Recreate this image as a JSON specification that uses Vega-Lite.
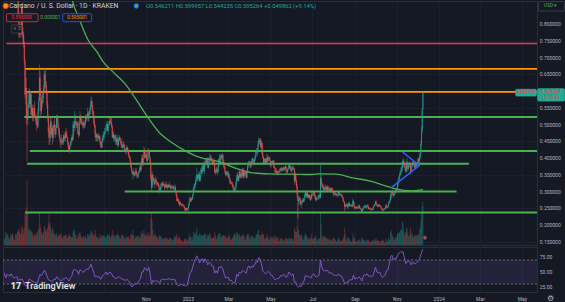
{
"$schema":"https://vega.github.io/schema/vega-lite/v6.json",
"background":"#151924",
"padding":0,
"spacing":0,
"config":{"font":"Roboto","view":{"stroke":"#2a2e39","strokeWidth":1},
 "axis":{"labelColor":"#b2b5be","labelFontSize":5,"ticks":false,"domain":false,"title":null,"gridColor":"#1d2230","gridWidth":0.8,"labelOverlap":false,"labelFlush":false,"labelBound":false}},
"datasets":{
"ohlc":[
{"d":"2022-04-09","o":0.96,"h":0.98,"l":0.95,"c":0.97,"v":6},
{"d":"2022-04-10","o":0.97,"h":0.99,"l":0.94,"c":0.95,"v":6},
{"d":"2022-04-11","o":0.95,"h":0.955,"l":0.885,"c":0.89,"v":12},
{"d":"2022-04-12","o":0.89,"h":0.93,"l":0.88,"c":0.92,"v":10},
{"d":"2022-04-13","o":0.92,"h":0.97,"l":0.91,"c":0.96,"v":10},
{"d":"2022-04-14","o":0.96,"h":0.965,"l":0.91,"c":0.92,"v":9},
{"d":"2022-04-15","o":0.92,"h":0.955,"l":0.915,"c":0.95,"v":7},
{"d":"2022-04-16","o":0.95,"h":0.96,"l":0.935,"c":0.945,"v":5},
{"d":"2022-04-17","o":0.945,"h":0.95,"l":0.915,"c":0.92,"v":6},
{"d":"2022-04-18","o":0.92,"h":0.955,"l":0.89,"c":0.95,"v":10},
{"d":"2022-04-19","o":0.95,"h":0.98,"l":0.94,"c":0.97,"v":9},
{"d":"2022-04-20","o":0.97,"h":0.99,"l":0.95,"c":0.96,"v":9},
{"d":"2022-04-21","o":0.96,"h":1.0,"l":0.92,"c":0.925,"v":11},
{"d":"2022-04-22","o":0.925,"h":0.93,"l":0.9,"c":0.905,"v":8},
{"d":"2022-04-23","o":0.905,"h":0.91,"l":0.89,"c":0.895,"v":5},
{"d":"2022-04-24","o":0.895,"h":0.9,"l":0.88,"c":0.885,"v":5},
{"d":"2022-04-25","o":0.885,"h":0.91,"l":0.875,"c":0.905,"v":10},
{"d":"2022-04-26","o":0.905,"h":0.91,"l":0.88,"c":0.885,"v":10},
{"d":"2022-04-27","o":0.885,"h":0.925,"l":0.88,"c":0.915,"v":10},
{"d":"2022-04-28","o":0.915,"h":0.93,"l":0.89,"c":0.905,"v":12},
{"d":"2022-04-29","o":0.905,"h":0.91,"l":0.82,"c":0.83,"v":14},
{"d":"2022-04-30","o":0.83,"h":0.84,"l":0.76,"c":0.77,"v":15},
{"d":"2022-05-01","o":0.77,"h":0.8,"l":0.76,"c":0.795,"v":12},
{"d":"2022-05-02","o":0.795,"h":0.82,"l":0.78,"c":0.79,"v":10},
{"d":"2022-05-03","o":0.79,"h":0.8,"l":0.76,"c":0.77,"v":10},
{"d":"2022-05-04","o":0.77,"h":0.86,"l":0.77,"c":0.85,"v":16},
{"d":"2022-05-05","o":0.85,"h":0.86,"l":0.76,"c":0.78,"v":18},
{"d":"2022-05-06","o":0.78,"h":0.79,"l":0.74,"c":0.77,"v":14},
{"d":"2022-05-07","o":0.77,"h":0.775,"l":0.73,"c":0.74,"v":10},
{"d":"2022-05-08","o":0.74,"h":0.75,"l":0.68,"c":0.69,"v":16},
{"d":"2022-05-09","o":0.69,"h":0.7,"l":0.58,"c":0.59,"v":30},
{"d":"2022-05-10","o":0.59,"h":0.66,"l":0.56,"c":0.61,"v":28},
{"d":"2022-05-11","o":0.61,"h":0.64,"l":0.5,"c":0.52,"v":35},
{"d":"2022-05-12","o":0.52,"h":0.56,"l":0.39,"c":0.515,"v":60},
{"d":"2022-05-13","o":0.515,"h":0.6,"l":0.5,"c":0.55,"v":30},
{"d":"2022-05-14","o":0.55,"h":0.57,"l":0.52,"c":0.56,"v":14},
{"d":"2022-05-15","o":0.56,"h":0.61,"l":0.55,"c":0.6,"v":15},
{"d":"2022-05-16","o":0.6,"h":0.605,"l":0.55,"c":0.56,"v":14},
{"d":"2022-05-17","o":0.56,"h":0.6,"l":0.55,"c":0.59,"v":12},
{"d":"2022-05-18","o":0.59,"h":0.6,"l":0.53,"c":0.53,"v":14},
{"d":"2022-05-19","o":0.53,"h":0.56,"l":0.52,"c":0.55,"v":12},
{"d":"2022-05-20","o":0.55,"h":0.56,"l":0.51,"c":0.52,"v":11},
{"d":"2022-05-21","o":0.52,"h":0.54,"l":0.51,"c":0.535,"v":8},
{"d":"2022-05-22","o":0.535,"h":0.56,"l":0.53,"c":0.55,"v":9},
{"d":"2022-05-23","o":0.55,"h":0.57,"l":0.52,"c":0.52,"v":11},
{"d":"2022-05-24","o":0.52,"h":0.535,"l":0.51,"c":0.525,"v":9},
{"d":"2022-05-25","o":0.525,"h":0.53,"l":0.5,"c":0.51,"v":9},
{"d":"2022-05-26","o":0.51,"h":0.52,"l":0.48,"c":0.5,"v":12},
{"d":"2022-05-27","o":0.5,"h":0.52,"l":0.49,"c":0.495,"v":11},
{"d":"2022-05-28","o":0.495,"h":0.55,"l":0.49,"c":0.54,"v":13},
{"d":"2022-05-29","o":0.54,"h":0.58,"l":0.53,"c":0.57,"v":15},
{"d":"2022-05-30","o":0.57,"h":0.68,"l":0.57,"c":0.64,"v":30},
{"d":"2022-05-31","o":0.64,"h":0.66,"l":0.59,"c":0.6,"v":20},
{"d":"2022-06-01","o":0.6,"h":0.61,"l":0.52,"c":0.54,"v":16},
{"d":"2022-06-02","o":0.54,"h":0.58,"l":0.53,"c":0.57,"v":12},
{"d":"2022-06-03","o":0.57,"h":0.59,"l":0.55,"c":0.565,"v":10},
{"d":"2022-06-04","o":0.565,"h":0.6,"l":0.56,"c":0.59,"v":10},
{"d":"2022-06-05","o":0.59,"h":0.62,"l":0.58,"c":0.61,"v":12},
{"d":"2022-06-06","o":0.61,"h":0.67,"l":0.6,"c":0.65,"v":18},
{"d":"2022-06-07","o":0.65,"h":0.66,"l":0.6,"c":0.63,"v":16},
{"d":"2022-06-08","o":0.63,"h":0.665,"l":0.61,"c":0.62,"v":14},
{"d":"2022-06-09","o":0.62,"h":0.63,"l":0.59,"c":0.6,"v":12},
{"d":"2022-06-10","o":0.6,"h":0.605,"l":0.55,"c":0.56,"v":14},
{"d":"2022-06-11","o":0.56,"h":0.57,"l":0.51,"c":0.52,"v":16},
{"d":"2022-06-12","o":0.52,"h":0.53,"l":0.47,"c":0.48,"v":20},
{"d":"2022-06-13","o":0.48,"h":0.49,"l":0.44,"c":0.46,"v":28},
{"d":"2022-06-14","o":0.46,"h":0.5,"l":0.44,"c":0.49,"v":20},
{"d":"2022-06-15","o":0.49,"h":0.52,"l":0.45,"c":0.51,"v":18},
{"d":"2022-06-16","o":0.51,"h":0.52,"l":0.46,"c":0.47,"v":14},
{"d":"2022-06-17","o":0.47,"h":0.5,"l":0.465,"c":0.49,"v":11},
{"d":"2022-06-18","o":0.49,"h":0.495,"l":0.44,"c":0.46,"v":16},
{"d":"2022-06-19","o":0.46,"h":0.5,"l":0.45,"c":0.49,"v":14},
{"d":"2022-06-20","o":0.49,"h":0.51,"l":0.47,"c":0.5,"v":11},
{"d":"2022-06-21","o":0.5,"h":0.52,"l":0.48,"c":0.49,"v":10},
{"d":"2022-06-22","o":0.49,"h":0.5,"l":0.46,"c":0.47,"v":9},
{"d":"2022-06-23","o":0.47,"h":0.5,"l":0.47,"c":0.49,"v":9},
{"d":"2022-06-24","o":0.49,"h":0.53,"l":0.49,"c":0.52,"v":11},
{"d":"2022-06-25","o":0.52,"h":0.53,"l":0.5,"c":0.51,"v":8},
{"d":"2022-06-26","o":0.51,"h":0.52,"l":0.49,"c":0.49,"v":7},
{"d":"2022-06-27","o":0.49,"h":0.5,"l":0.47,"c":0.48,"v":9},
{"d":"2022-06-28","o":0.48,"h":0.49,"l":0.46,"c":0.46,"v":9},
{"d":"2022-06-29","o":0.46,"h":0.47,"l":0.44,"c":0.45,"v":10},
{"d":"2022-06-30","o":0.45,"h":0.46,"l":0.43,"c":0.448,"v":11},
{"d":"2022-07-01","o":0.448,"h":0.47,"l":0.44,"c":0.452,"v":9},
{"d":"2022-07-02","o":0.452,"h":0.46,"l":0.44,"c":0.445,"v":6},
{"d":"2022-07-03","o":0.445,"h":0.46,"l":0.44,"c":0.45,"v":6},
{"d":"2022-07-04","o":0.45,"h":0.47,"l":0.44,"c":0.468,"v":8},
{"d":"2022-07-05","o":0.468,"h":0.48,"l":0.45,"c":0.458,"v":9},
{"d":"2022-07-06","o":0.458,"h":0.47,"l":0.45,"c":0.462,"v":8},
{"d":"2022-07-07","o":0.462,"h":0.48,"l":0.45,"c":0.475,"v":9},
{"d":"2022-07-08","o":0.475,"h":0.49,"l":0.46,"c":0.468,"v":10},
{"d":"2022-07-09","o":0.468,"h":0.48,"l":0.46,"c":0.46,"v":6},
{"d":"2022-07-10","o":0.46,"h":0.462,"l":0.44,"c":0.448,"v":7},
{"d":"2022-07-11","o":0.448,"h":0.45,"l":0.42,"c":0.43,"v":9},
{"d":"2022-07-12","o":0.43,"h":0.44,"l":0.42,"c":0.425,"v":8},
{"d":"2022-07-13","o":0.425,"h":0.44,"l":0.415,"c":0.438,"v":10},
{"d":"2022-07-14","o":0.438,"h":0.45,"l":0.43,"c":0.448,"v":8},
{"d":"2022-07-15","o":0.448,"h":0.46,"l":0.44,"c":0.452,"v":8},
{"d":"2022-07-16","o":0.452,"h":0.47,"l":0.44,"c":0.462,"v":7},
{"d":"2022-07-17","o":0.462,"h":0.47,"l":0.45,"c":0.455,"v":7},
{"d":"2022-07-18","o":0.455,"h":0.51,"l":0.455,"c":0.5,"v":14},
{"d":"2022-07-19","o":0.5,"h":0.51,"l":0.47,"c":0.49,"v":12},
{"d":"2022-07-20","o":0.49,"h":0.54,"l":0.49,"c":0.51,"v":14},
{"d":"2022-07-21","o":0.51,"h":0.52,"l":0.48,"c":0.508,"v":10},
{"d":"2022-07-22","o":0.508,"h":0.53,"l":0.5,"c":0.502,"v":9},
{"d":"2022-07-23","o":0.502,"h":0.51,"l":0.49,"c":0.498,"v":6},
{"d":"2022-07-24","o":0.498,"h":0.51,"l":0.49,"c":0.505,"v":6},
{"d":"2022-07-25","o":0.505,"h":0.51,"l":0.47,"c":0.472,"v":9},
{"d":"2022-07-26","o":0.472,"h":0.48,"l":0.46,"c":0.468,"v":8},
{"d":"2022-07-27","o":0.468,"h":0.51,"l":0.465,"c":0.505,"v":11},
{"d":"2022-07-28","o":0.505,"h":0.54,"l":0.5,"c":0.52,"v":12},
{"d":"2022-07-29","o":0.52,"h":0.53,"l":0.5,"c":0.512,"v":9},
{"d":"2022-07-30","o":0.512,"h":0.525,"l":0.5,"c":0.508,"v":7},
{"d":"2022-07-31","o":0.508,"h":0.52,"l":0.5,"c":0.502,"v":6},
{"d":"2022-08-01","o":0.502,"h":0.51,"l":0.49,"c":0.498,"v":7},
{"d":"2022-08-02","o":0.498,"h":0.51,"l":0.485,"c":0.505,"v":8},
{"d":"2022-08-03","o":0.505,"h":0.515,"l":0.49,"c":0.495,"v":7},
{"d":"2022-08-04","o":0.495,"h":0.51,"l":0.49,"c":0.502,"v":7},
{"d":"2022-08-05","o":0.502,"h":0.53,"l":0.5,"c":0.522,"v":9},
{"d":"2022-08-06","o":0.522,"h":0.53,"l":0.51,"c":0.518,"v":6},
{"d":"2022-08-07","o":0.518,"h":0.53,"l":0.51,"c":0.525,"v":6},
{"d":"2022-08-08","o":0.525,"h":0.55,"l":0.52,"c":0.535,"v":10},
{"d":"2022-08-09","o":0.535,"h":0.54,"l":0.51,"c":0.518,"v":8},
{"d":"2022-08-10","o":0.518,"h":0.54,"l":0.51,"c":0.532,"v":10},
{"d":"2022-08-11","o":0.532,"h":0.55,"l":0.53,"c":0.54,"v":10},
{"d":"2022-08-12","o":0.54,"h":0.56,"l":0.53,"c":0.552,"v":9},
{"d":"2022-08-13","o":0.552,"h":0.585,"l":0.55,"c":0.57,"v":14},
{"d":"2022-08-14","o":0.57,"h":0.58,"l":0.55,"c":0.56,"v":12},
{"d":"2022-08-15","o":0.56,"h":0.57,"l":0.53,"c":0.54,"v":11},
{"d":"2022-08-16","o":0.54,"h":0.55,"l":0.52,"c":0.53,"v":9},
{"d":"2022-08-17","o":0.53,"h":0.54,"l":0.5,"c":0.51,"v":10},
{"d":"2022-08-18","o":0.51,"h":0.52,"l":0.49,"c":0.5,"v":8},
{"d":"2022-08-19","o":0.5,"h":0.5,"l":0.46,"c":0.47,"v":14},
{"d":"2022-08-20","o":0.47,"h":0.48,"l":0.45,"c":0.462,"v":10},
{"d":"2022-08-21","o":0.462,"h":0.475,"l":0.45,"c":0.47,"v":7},
{"d":"2022-08-22","o":0.47,"h":0.472,"l":0.45,"c":0.462,"v":8},
{"d":"2022-08-23","o":0.462,"h":0.47,"l":0.45,"c":0.465,"v":7},
{"d":"2022-08-24","o":0.465,"h":0.475,"l":0.455,"c":0.46,"v":6},
{"d":"2022-08-25","o":0.46,"h":0.47,"l":0.455,"c":0.465,"v":6},
{"d":"2022-08-26","o":0.465,"h":0.47,"l":0.44,"c":0.448,"v":10},
{"d":"2022-08-27","o":0.448,"h":0.45,"l":0.43,"c":0.44,"v":8},
{"d":"2022-08-28","o":0.44,"h":0.45,"l":0.43,"c":0.432,"v":7},
{"d":"2022-08-29","o":0.432,"h":0.46,"l":0.43,"c":0.452,"v":9},
{"d":"2022-08-30","o":0.452,"h":0.47,"l":0.445,"c":0.46,"v":9},
{"d":"2022-08-31","o":0.46,"h":0.48,"l":0.455,"c":0.468,"v":9},
{"d":"2022-09-01","o":0.468,"h":0.48,"l":0.45,"c":0.472,"v":8},
{"d":"2022-09-02","o":0.472,"h":0.49,"l":0.46,"c":0.478,"v":8},
{"d":"2022-09-03","o":0.478,"h":0.49,"l":0.47,"c":0.482,"v":6},
{"d":"2022-09-04","o":0.482,"h":0.5,"l":0.48,"c":0.498,"v":7},
{"d":"2022-09-05","o":0.498,"h":0.51,"l":0.49,"c":0.502,"v":8},
{"d":"2022-09-06","o":0.502,"h":0.51,"l":0.48,"c":0.482,"v":10},
{"d":"2022-09-07","o":0.482,"h":0.5,"l":0.47,"c":0.495,"v":9},
{"d":"2022-09-08","o":0.495,"h":0.51,"l":0.49,"c":0.502,"v":8},
{"d":"2022-09-09","o":0.502,"h":0.52,"l":0.5,"c":0.512,"v":10},
{"d":"2022-09-10","o":0.512,"h":0.52,"l":0.5,"c":0.508,"v":7},
{"d":"2022-09-11","o":0.508,"h":0.52,"l":0.5,"c":0.505,"v":7},
{"d":"2022-09-12","o":0.505,"h":0.52,"l":0.49,"c":0.495,"v":9},
{"d":"2022-09-13","o":0.495,"h":0.5,"l":0.46,"c":0.462,"v":14},
{"d":"2022-09-14","o":0.462,"h":0.48,"l":0.46,"c":0.472,"v":9},
{"d":"2022-09-15","o":0.472,"h":0.48,"l":0.45,"c":0.458,"v":10},
{"d":"2022-09-16","o":0.458,"h":0.47,"l":0.45,"c":0.462,"v":8},
{"d":"2022-09-17","o":0.462,"h":0.47,"l":0.46,"c":0.468,"v":6},
{"d":"2022-09-18","o":0.468,"h":0.47,"l":0.44,"c":0.448,"v":9},
{"d":"2022-09-19","o":0.448,"h":0.46,"l":0.44,"c":0.458,"v":9},
{"d":"2022-09-20","o":0.458,"h":0.47,"l":0.44,"c":0.45,"v":9},
{"d":"2022-09-21","o":0.45,"h":0.46,"l":0.43,"c":0.438,"v":11},
{"d":"2022-09-22","o":0.438,"h":0.46,"l":0.435,"c":0.458,"v":9},
{"d":"2022-09-23","o":0.458,"h":0.47,"l":0.45,"c":0.462,"v":8},
{"d":"2022-09-24","o":0.462,"h":0.465,"l":0.45,"c":0.452,"v":6},
{"d":"2022-09-25","o":0.452,"h":0.46,"l":0.44,"c":0.448,"v":6},
{"d":"2022-09-26","o":0.448,"h":0.45,"l":0.43,"c":0.442,"v":8},
{"d":"2022-09-27","o":0.442,"h":0.46,"l":0.43,"c":0.432,"v":10},
{"d":"2022-09-28","o":0.432,"h":0.44,"l":0.42,"c":0.438,"v":9},
{"d":"2022-09-29","o":0.438,"h":0.45,"l":0.43,"c":0.442,"v":8},
{"d":"2022-09-30","o":0.442,"h":0.45,"l":0.43,"c":0.432,"v":8},
{"d":"2022-10-01","o":0.432,"h":0.44,"l":0.42,"c":0.428,"v":5},
{"d":"2022-10-02","o":0.428,"h":0.43,"l":0.415,"c":0.42,"v":6},
{"d":"2022-10-03","o":0.42,"h":0.43,"l":0.41,"c":0.422,"v":7},
{"d":"2022-10-04","o":0.422,"h":0.44,"l":0.42,"c":0.432,"v":8},
{"d":"2022-10-05","o":0.432,"h":0.435,"l":0.42,"c":0.425,"v":7},
{"d":"2022-10-06","o":0.425,"h":0.43,"l":0.41,"c":0.418,"v":7},
{"d":"2022-10-07","o":0.418,"h":0.42,"l":0.4,"c":0.405,"v":8},
{"d":"2022-10-08","o":0.405,"h":0.41,"l":0.4,"c":0.402,"v":5},
{"d":"2022-10-09","o":0.402,"h":0.405,"l":0.39,"c":0.392,"v":6},
{"d":"2022-10-10","o":0.392,"h":0.395,"l":0.37,"c":0.372,"v":10},
{"d":"2022-10-11","o":0.372,"h":0.38,"l":0.36,"c":0.362,"v":10},
{"d":"2022-10-12","o":0.362,"h":0.365,"l":0.35,"c":0.352,"v":9},
{"d":"2022-10-13","o":0.352,"h":0.36,"l":0.335,"c":0.358,"v":14},
{"d":"2022-10-14","o":0.358,"h":0.37,"l":0.35,"c":0.352,"v":9},
{"d":"2022-10-15","o":0.352,"h":0.36,"l":0.345,"c":0.348,"v":6},
{"d":"2022-10-16","o":0.348,"h":0.36,"l":0.345,"c":0.356,"v":6},
{"d":"2022-10-17","o":0.356,"h":0.37,"l":0.35,"c":0.362,"v":8},
{"d":"2022-10-18","o":0.362,"h":0.37,"l":0.35,"c":0.352,"v":8},
{"d":"2022-10-19","o":0.352,"h":0.355,"l":0.34,"c":0.345,"v":8},
{"d":"2022-10-20","o":0.345,"h":0.355,"l":0.34,"c":0.348,"v":8},
{"d":"2022-10-21","o":0.348,"h":0.36,"l":0.34,"c":0.358,"v":9},
{"d":"2022-10-22","o":0.358,"h":0.365,"l":0.355,"c":0.362,"v":6},
{"d":"2022-10-23","o":0.362,"h":0.375,"l":0.355,"c":0.372,"v":7},
{"d":"2022-10-24","o":0.372,"h":0.38,"l":0.36,"c":0.365,"v":8},
{"d":"2022-10-25","o":0.365,"h":0.39,"l":0.36,"c":0.385,"v":11},
{"d":"2022-10-26","o":0.385,"h":0.41,"l":0.38,"c":0.4,"v":13},
{"d":"2022-10-27","o":0.4,"h":0.41,"l":0.38,"c":0.382,"v":10},
{"d":"2022-10-28","o":0.382,"h":0.4,"l":0.375,"c":0.398,"v":10},
{"d":"2022-10-29","o":0.398,"h":0.435,"l":0.395,"c":0.42,"v":14},
{"d":"2022-10-30","o":0.42,"h":0.43,"l":0.4,"c":0.408,"v":10},
{"d":"2022-10-31","o":0.408,"h":0.42,"l":0.4,"c":0.402,"v":9},
{"d":"2022-11-01","o":0.402,"h":0.415,"l":0.4,"c":0.41,"v":8},
{"d":"2022-11-02","o":0.41,"h":0.42,"l":0.39,"c":0.392,"v":10},
{"d":"2022-11-03","o":0.392,"h":0.4,"l":0.385,"c":0.398,"v":8},
{"d":"2022-11-04","o":0.398,"h":0.43,"l":0.395,"c":0.422,"v":12},
{"d":"2022-11-05","o":0.422,"h":0.427,"l":0.41,"c":0.418,"v":9},
{"d":"2022-11-06","o":0.418,"h":0.42,"l":0.4,"c":0.402,"v":8},
{"d":"2022-11-07","o":0.402,"h":0.405,"l":0.38,"c":0.382,"v":10},
{"d":"2022-11-08","o":0.382,"h":0.39,"l":0.33,"c":0.342,"v":25},
{"d":"2022-11-09","o":0.342,"h":0.35,"l":0.3,"c":0.312,"v":30},
{"d":"2022-11-10","o":0.312,"h":0.36,"l":0.31,"c":0.35,"v":22},
{"d":"2022-11-11","o":0.35,"h":0.352,"l":0.32,"c":0.338,"v":14},
{"d":"2022-11-12","o":0.338,"h":0.342,"l":0.33,"c":0.332,"v":8},
{"d":"2022-11-13","o":0.332,"h":0.34,"l":0.32,"c":0.322,"v":9},
{"d":"2022-11-14","o":0.322,"h":0.34,"l":0.31,"c":0.332,"v":11},
{"d":"2022-11-15","o":0.332,"h":0.345,"l":0.33,"c":0.335,"v":9},
{"d":"2022-11-16","o":0.335,"h":0.34,"l":0.32,"c":0.325,"v":8},
{"d":"2022-11-17","o":0.325,"h":0.33,"l":0.315,"c":0.322,"v":7},
{"d":"2022-11-18","o":0.322,"h":0.33,"l":0.318,"c":0.325,"v":6},
{"d":"2022-11-19","o":0.325,"h":0.328,"l":0.315,"c":0.318,"v":5},
{"d":"2022-11-20","o":0.318,"h":0.322,"l":0.3,"c":0.305,"v":8},
{"d":"2022-11-21","o":0.305,"h":0.31,"l":0.295,"c":0.302,"v":9},
{"d":"2022-11-22","o":0.302,"h":0.315,"l":0.298,"c":0.312,"v":8},
{"d":"2022-11-23","o":0.312,"h":0.325,"l":0.305,"c":0.322,"v":8},
{"d":"2022-11-24","o":0.322,"h":0.33,"l":0.318,"c":0.325,"v":6},
{"d":"2022-11-25","o":0.325,"h":0.328,"l":0.312,"c":0.318,"v":6},
{"d":"2022-11-26","o":0.318,"h":0.33,"l":0.315,"c":0.322,"v":6},
{"d":"2022-11-27","o":0.322,"h":0.33,"l":0.318,"c":0.32,"v":5},
{"d":"2022-11-28","o":0.32,"h":0.322,"l":0.305,"c":0.312,"v":7},
{"d":"2022-11-29","o":0.312,"h":0.322,"l":0.31,"c":0.318,"v":6},
{"d":"2022-11-30","o":0.318,"h":0.33,"l":0.312,"c":0.322,"v":7},
{"d":"2022-12-01","o":0.322,"h":0.328,"l":0.31,"c":0.312,"v":6},
{"d":"2022-12-02","o":0.312,"h":0.32,"l":0.305,"c":0.318,"v":6},
{"d":"2022-12-03","o":0.318,"h":0.322,"l":0.31,"c":0.312,"v":5},
{"d":"2022-12-04","o":0.312,"h":0.322,"l":0.31,"c":0.32,"v":5},
{"d":"2022-12-05","o":0.32,"h":0.33,"l":0.312,"c":0.315,"v":7},
{"d":"2022-12-06","o":0.315,"h":0.32,"l":0.31,"c":0.318,"v":6},
{"d":"2022-12-07","o":0.318,"h":0.32,"l":0.305,"c":0.31,"v":6},
{"d":"2022-12-08","o":0.31,"h":0.318,"l":0.305,"c":0.314,"v":6},
{"d":"2022-12-09","o":0.314,"h":0.32,"l":0.31,"c":0.312,"v":5},
{"d":"2022-12-10","o":0.312,"h":0.318,"l":0.308,"c":0.315,"v":4},
{"d":"2022-12-11","o":0.315,"h":0.318,"l":0.305,"c":0.308,"v":5},
{"d":"2022-12-12","o":0.308,"h":0.312,"l":0.298,"c":0.31,"v":7},
{"d":"2022-12-13","o":0.31,"h":0.322,"l":0.305,"c":0.312,"v":8},
{"d":"2022-12-14","o":0.312,"h":0.318,"l":0.3,"c":0.302,"v":7},
{"d":"2022-12-15","o":0.302,"h":0.305,"l":0.285,"c":0.29,"v":9},
{"d":"2022-12-16","o":0.29,"h":0.292,"l":0.27,"c":0.272,"v":10},
{"d":"2022-12-17","o":0.272,"h":0.28,"l":0.27,"c":0.278,"v":6},
{"d":"2022-12-18","o":0.278,"h":0.28,"l":0.268,"c":0.272,"v":6},
{"d":"2022-12-19","o":0.272,"h":0.274,"l":0.26,"c":0.262,"v":7},
{"d":"2022-12-20","o":0.262,"h":0.272,"l":0.255,"c":0.268,"v":8},
{"d":"2022-12-21","o":0.268,"h":0.27,"l":0.26,"c":0.262,"v":5},
{"d":"2022-12-22","o":0.262,"h":0.265,"l":0.255,"c":0.26,"v":5},
{"d":"2022-12-23","o":0.26,"h":0.264,"l":0.255,"c":0.262,"v":4},
{"d":"2022-12-24","o":0.262,"h":0.265,"l":0.258,"c":0.26,"v":3},
{"d":"2022-12-25","o":0.26,"h":0.262,"l":0.255,"c":0.258,"v":3},
{"d":"2022-12-26","o":0.258,"h":0.262,"l":0.252,"c":0.255,"v":4},
{"d":"2022-12-27","o":0.255,"h":0.258,"l":0.248,"c":0.25,"v":5},
{"d":"2022-12-28","o":0.25,"h":0.252,"l":0.24,"c":0.244,"v":6},
{"d":"2022-12-29","o":0.244,"h":0.252,"l":0.242,"c":0.25,"v":6},
{"d":"2022-12-30","o":0.25,"h":0.252,"l":0.242,"c":0.246,"v":5},
{"d":"2022-12-31","o":0.246,"h":0.25,"l":0.243,"c":0.245,"v":4},
{"d":"2023-01-01","o":0.245,"h":0.252,"l":0.243,"c":0.25,"v":4},
{"d":"2023-01-02","o":0.25,"h":0.262,"l":0.247,"c":0.26,"v":6},
{"d":"2023-01-03","o":0.26,"h":0.272,"l":0.258,"c":0.27,"v":8},
{"d":"2023-01-04","o":0.27,"h":0.285,"l":0.268,"c":0.28,"v":10},
{"d":"2023-01-05","o":0.28,"h":0.282,"l":0.27,"c":0.272,"v":7},
{"d":"2023-01-06","o":0.272,"h":0.282,"l":0.268,"c":0.28,"v":7},
{"d":"2023-01-07","o":0.28,"h":0.284,"l":0.274,"c":0.278,"v":4},
{"d":"2023-01-08","o":0.278,"h":0.292,"l":0.275,"c":0.29,"v":7},
{"d":"2023-01-09","o":0.29,"h":0.315,"l":0.288,"c":0.31,"v":12},
{"d":"2023-01-10","o":0.31,"h":0.322,"l":0.3,"c":0.312,"v":10},
{"d":"2023-01-11","o":0.312,"h":0.325,"l":0.305,"c":0.322,"v":9},
{"d":"2023-01-12","o":0.322,"h":0.335,"l":0.312,"c":0.33,"v":11},
{"d":"2023-01-13","o":0.33,"h":0.345,"l":0.32,"c":0.342,"v":12},
{"d":"2023-01-14","o":0.342,"h":0.37,"l":0.335,"c":0.35,"v":16},
{"d":"2023-01-15","o":0.35,"h":0.352,"l":0.33,"c":0.338,"v":9},
{"d":"2023-01-16","o":0.338,"h":0.352,"l":0.33,"c":0.348,"v":9},
{"d":"2023-01-17","o":0.348,"h":0.36,"l":0.34,"c":0.352,"v":8},
{"d":"2023-01-18","o":0.352,"h":0.36,"l":0.33,"c":0.332,"v":11},
{"d":"2023-01-19","o":0.332,"h":0.35,"l":0.33,"c":0.348,"v":8},
{"d":"2023-01-20","o":0.348,"h":0.37,"l":0.345,"c":0.365,"v":10},
{"d":"2023-01-21","o":0.365,"h":0.375,"l":0.352,"c":0.358,"v":9},
{"d":"2023-01-22","o":0.358,"h":0.38,"l":0.352,"c":0.372,"v":9},
{"d":"2023-01-23","o":0.372,"h":0.385,"l":0.362,"c":0.38,"v":9},
{"d":"2023-01-24","o":0.38,"h":0.39,"l":0.358,"c":0.362,"v":9},
{"d":"2023-01-25","o":0.362,"h":0.38,"l":0.352,"c":0.378,"v":10},
{"d":"2023-01-26","o":0.378,"h":0.4,"l":0.372,"c":0.39,"v":11},
{"d":"2023-01-27","o":0.39,"h":0.4,"l":0.378,"c":0.392,"v":9},
{"d":"2023-01-28","o":0.392,"h":0.398,"l":0.38,"c":0.382,"v":6},
{"d":"2023-01-29","o":0.382,"h":0.402,"l":0.38,"c":0.4,"v":8},
{"d":"2023-01-30","o":0.4,"h":0.402,"l":0.37,"c":0.372,"v":10},
{"d":"2023-01-31","o":0.372,"h":0.39,"l":0.368,"c":0.388,"v":8},
{"d":"2023-02-01","o":0.388,"h":0.405,"l":0.38,"c":0.4,"v":10},
{"d":"2023-02-02","o":0.4,"h":0.415,"l":0.39,"c":0.398,"v":11},
{"d":"2023-02-03","o":0.398,"h":0.41,"l":0.39,"c":0.402,"v":8},
{"d":"2023-02-04","o":0.402,"h":0.408,"l":0.39,"c":0.392,"v":6},
{"d":"2023-02-05","o":0.392,"h":0.4,"l":0.38,"c":0.388,"v":6},
{"d":"2023-02-06","o":0.388,"h":0.395,"l":0.378,"c":0.382,"v":7},
{"d":"2023-02-07","o":0.382,"h":0.395,"l":0.378,"c":0.392,"v":7},
{"d":"2023-02-08","o":0.392,"h":0.4,"l":0.38,"c":0.385,"v":7},
{"d":"2023-02-09","o":0.385,"h":0.39,"l":0.355,"c":0.358,"v":12},
{"d":"2023-02-10","o":0.358,"h":0.365,"l":0.35,"c":0.355,"v":9},
{"d":"2023-02-11","o":0.355,"h":0.37,"l":0.354,"c":0.368,"v":6},
{"d":"2023-02-12","o":0.368,"h":0.375,"l":0.36,"c":0.365,"v":6},
{"d":"2023-02-13","o":0.365,"h":0.368,"l":0.35,"c":0.358,"v":8},
{"d":"2023-02-14","o":0.358,"h":0.38,"l":0.355,"c":0.378,"v":9},
{"d":"2023-02-15","o":0.378,"h":0.4,"l":0.372,"c":0.398,"v":11},
{"d":"2023-02-16","o":0.398,"h":0.412,"l":0.385,"c":0.388,"v":11},
{"d":"2023-02-17","o":0.388,"h":0.41,"l":0.38,"c":0.402,"v":10},
{"d":"2023-02-18","o":0.402,"h":0.412,"l":0.398,"c":0.408,"v":7},
{"d":"2023-02-19","o":0.408,"h":0.41,"l":0.395,"c":0.4,"v":7},
{"d":"2023-02-20","o":0.4,"h":0.415,"l":0.39,"c":0.41,"v":9},
{"d":"2023-02-21","o":0.41,"h":0.412,"l":0.385,"c":0.39,"v":9},
{"d":"2023-02-22","o":0.39,"h":0.395,"l":0.37,"c":0.378,"v":9},
{"d":"2023-02-23","o":0.378,"h":0.39,"l":0.368,"c":0.372,"v":8},
{"d":"2023-02-24","o":0.372,"h":0.375,"l":0.352,"c":0.358,"v":9},
{"d":"2023-02-25","o":0.358,"h":0.36,"l":0.345,"c":0.35,"v":7},
{"d":"2023-02-26","o":0.35,"h":0.362,"l":0.348,"c":0.36,"v":6},
{"d":"2023-02-27","o":0.36,"h":0.362,"l":0.348,"c":0.352,"v":7},
{"d":"2023-02-28","o":0.352,"h":0.36,"l":0.342,"c":0.348,"v":7},
{"d":"2023-03-01","o":0.348,"h":0.36,"l":0.34,"c":0.352,"v":8},
{"d":"2023-03-02","o":0.352,"h":0.355,"l":0.338,"c":0.342,"v":7},
{"d":"2023-03-03","o":0.342,"h":0.343,"l":0.322,"c":0.33,"v":10},
{"d":"2023-03-04","o":0.33,"h":0.335,"l":0.322,"c":0.328,"v":5},
{"d":"2023-03-05","o":0.328,"h":0.332,"l":0.322,"c":0.325,"v":5},
{"d":"2023-03-06","o":0.325,"h":0.33,"l":0.318,"c":0.322,"v":6},
{"d":"2023-03-07","o":0.322,"h":0.328,"l":0.312,"c":0.318,"v":7},
{"d":"2023-03-08","o":0.318,"h":0.32,"l":0.305,"c":0.31,"v":8},
{"d":"2023-03-09","o":0.31,"h":0.318,"l":0.3,"c":0.302,"v":10},
{"d":"2023-03-10","o":0.302,"h":0.31,"l":0.298,"c":0.308,"v":11},
{"d":"2023-03-11","o":0.308,"h":0.315,"l":0.3,"c":0.31,"v":9},
{"d":"2023-03-12","o":0.31,"h":0.33,"l":0.305,"c":0.328,"v":9},
{"d":"2023-03-13","o":0.328,"h":0.35,"l":0.32,"c":0.342,"v":12},
{"d":"2023-03-14","o":0.342,"h":0.36,"l":0.332,"c":0.35,"v":11},
{"d":"2023-03-15","o":0.35,"h":0.358,"l":0.33,"c":0.332,"v":10},
{"d":"2023-03-16","o":0.332,"h":0.348,"l":0.33,"c":0.345,"v":8},
{"d":"2023-03-17","o":0.345,"h":0.365,"l":0.34,"c":0.36,"v":10},
{"d":"2023-03-18","o":0.36,"h":0.362,"l":0.34,"c":0.342,"v":8},
{"d":"2023-03-19","o":0.342,"h":0.358,"l":0.34,"c":0.352,"v":7},
{"d":"2023-03-20","o":0.352,"h":0.36,"l":0.34,"c":0.348,"v":8},
{"d":"2023-03-21","o":0.348,"h":0.37,"l":0.345,"c":0.365,"v":9},
{"d":"2023-03-22","o":0.365,"h":0.372,"l":0.338,"c":0.345,"v":10},
{"d":"2023-03-23","o":0.345,"h":0.37,"l":0.342,"c":0.362,"v":9},
{"d":"2023-03-24","o":0.362,"h":0.365,"l":0.34,"c":0.348,"v":8},
{"d":"2023-03-25","o":0.348,"h":0.355,"l":0.342,"c":0.352,"v":5},
{"d":"2023-03-26","o":0.352,"h":0.36,"l":0.348,"c":0.358,"v":5},
{"d":"2023-03-27","o":0.358,"h":0.36,"l":0.338,"c":0.342,"v":8},
{"d":"2023-03-28","o":0.342,"h":0.368,"l":0.34,"c":0.362,"v":9},
{"d":"2023-03-29","o":0.362,"h":0.382,"l":0.36,"c":0.378,"v":10},
{"d":"2023-03-30","o":0.378,"h":0.392,"l":0.37,"c":0.382,"v":10},
{"d":"2023-03-31","o":0.382,"h":0.392,"l":0.375,"c":0.388,"v":8},
{"d":"2023-04-01","o":0.388,"h":0.392,"l":0.378,"c":0.382,"v":6},
{"d":"2023-04-02","o":0.382,"h":0.39,"l":0.37,"c":0.375,"v":6},
{"d":"2023-04-03","o":0.375,"h":0.39,"l":0.37,"c":0.385,"v":8},
{"d":"2023-04-04","o":0.385,"h":0.4,"l":0.38,"c":0.392,"v":9},
{"d":"2023-04-05","o":0.392,"h":0.402,"l":0.388,"c":0.398,"v":8},
{"d":"2023-04-06","o":0.398,"h":0.4,"l":0.38,"c":0.385,"v":7},
{"d":"2023-04-07","o":0.385,"h":0.39,"l":0.378,"c":0.388,"v":6},
{"d":"2023-04-08","o":0.388,"h":0.4,"l":0.385,"c":0.398,"v":6},
{"d":"2023-04-09","o":0.398,"h":0.41,"l":0.392,"c":0.408,"v":7},
{"d":"2023-04-10","o":0.408,"h":0.42,"l":0.4,"c":0.418,"v":9},
{"d":"2023-04-11","o":0.418,"h":0.43,"l":0.41,"c":0.422,"v":10},
{"d":"2023-04-12","o":0.422,"h":0.43,"l":0.405,"c":0.418,"v":10},
{"d":"2023-04-13","o":0.418,"h":0.45,"l":0.415,"c":0.44,"v":13},
{"d":"2023-04-14","o":0.44,"h":0.462,"l":0.435,"c":0.452,"v":14},
{"d":"2023-04-15","o":0.452,"h":0.46,"l":0.44,"c":0.448,"v":9},
{"d":"2023-04-16","o":0.448,"h":0.46,"l":0.44,"c":0.455,"v":8},
{"d":"2023-04-17","o":0.455,"h":0.458,"l":0.43,"c":0.432,"v":10},
{"d":"2023-04-18","o":0.432,"h":0.45,"l":0.428,"c":0.445,"v":9},
{"d":"2023-04-19","o":0.445,"h":0.446,"l":0.41,"c":0.412,"v":12},
{"d":"2023-04-20","o":0.412,"h":0.42,"l":0.398,"c":0.402,"v":10},
{"d":"2023-04-21","o":0.402,"h":0.405,"l":0.38,"c":0.385,"v":10},
{"d":"2023-04-22","o":0.385,"h":0.4,"l":0.382,"c":0.398,"v":7},
{"d":"2023-04-23","o":0.398,"h":0.4,"l":0.385,"c":0.392,"v":5},
{"d":"2023-04-24","o":0.392,"h":0.4,"l":0.38,"c":0.386,"v":6},
{"d":"2023-04-25","o":0.386,"h":0.402,"l":0.38,"c":0.398,"v":7},
{"d":"2023-04-26","o":0.398,"h":0.412,"l":0.38,"c":0.39,"v":10},
{"d":"2023-04-27","o":0.39,"h":0.41,"l":0.388,"c":0.402,"v":8},
{"d":"2023-04-28","o":0.402,"h":0.405,"l":0.39,"c":0.398,"v":6},
{"d":"2023-04-29","o":0.398,"h":0.405,"l":0.392,"c":0.4,"v":5},
{"d":"2023-04-30","o":0.4,"h":0.405,"l":0.39,"c":0.392,"v":5},
{"d":"2023-05-01","o":0.392,"h":0.395,"l":0.372,"c":0.378,"v":8},
{"d":"2023-05-02","o":0.378,"h":0.39,"l":0.372,"c":0.388,"v":7},
{"d":"2023-05-03","o":0.388,"h":0.392,"l":0.378,"c":0.39,"v":7},
{"d":"2023-05-04","o":0.39,"h":0.392,"l":0.38,"c":0.382,"v":6},
{"d":"2023-05-05","o":0.382,"h":0.395,"l":0.38,"c":0.392,"v":7},
{"d":"2023-05-06","o":0.392,"h":0.395,"l":0.37,"c":0.372,"v":8},
{"d":"2023-05-07","o":0.372,"h":0.378,"l":0.368,"c":0.37,"v":5},
{"d":"2023-05-08","o":0.37,"h":0.372,"l":0.352,"c":0.358,"v":9},
{"d":"2023-05-09","o":0.358,"h":0.365,"l":0.355,"c":0.362,"v":6},
{"d":"2023-05-10","o":0.362,"h":0.372,"l":0.352,"c":0.36,"v":7},
{"d":"2023-05-11","o":0.36,"h":0.362,"l":0.35,"c":0.355,"v":7},
{"d":"2023-05-12","o":0.355,"h":0.362,"l":0.348,"c":0.36,"v":7},
{"d":"2023-05-13","o":0.36,"h":0.364,"l":0.356,"c":0.358,"v":4},
{"d":"2023-05-14","o":0.358,"h":0.365,"l":0.355,"c":0.36,"v":4},
{"d":"2023-05-15","o":0.36,"h":0.372,"l":0.358,"c":0.368,"v":6},
{"d":"2023-05-16","o":0.368,"h":0.372,"l":0.36,"c":0.365,"v":6},
{"d":"2023-05-17","o":0.365,"h":0.372,"l":0.36,"c":0.37,"v":6},
{"d":"2023-05-18","o":0.37,"h":0.374,"l":0.36,"c":0.362,"v":6},
{"d":"2023-05-19","o":0.362,"h":0.372,"l":0.36,"c":0.368,"v":5},
{"d":"2023-05-20","o":0.368,"h":0.375,"l":0.365,"c":0.372,"v":5},
{"d":"2023-05-21","o":0.372,"h":0.374,"l":0.362,"c":0.365,"v":4},
{"d":"2023-05-22","o":0.365,"h":0.372,"l":0.362,"c":0.37,"v":4},
{"d":"2023-05-23","o":0.37,"h":0.382,"l":0.368,"c":0.375,"v":6},
{"d":"2023-05-24","o":0.375,"h":0.376,"l":0.355,"c":0.36,"v":7},
{"d":"2023-05-25","o":0.36,"h":0.362,"l":0.352,"c":0.358,"v":6},
{"d":"2023-05-26","o":0.358,"h":0.37,"l":0.356,"c":0.366,"v":5},
{"d":"2023-05-27","o":0.366,"h":0.372,"l":0.362,"c":0.368,"v":4},
{"d":"2023-05-28","o":0.368,"h":0.385,"l":0.366,"c":0.38,"v":7},
{"d":"2023-05-29","o":0.38,"h":0.382,"l":0.368,"c":0.372,"v":6},
{"d":"2023-05-30","o":0.372,"h":0.38,"l":0.368,"c":0.375,"v":5},
{"d":"2023-05-31","o":0.375,"h":0.376,"l":0.36,"c":0.362,"v":6},
{"d":"2023-06-01","o":0.362,"h":0.37,"l":0.356,"c":0.365,"v":6},
{"d":"2023-06-02","o":0.365,"h":0.375,"l":0.362,"c":0.372,"v":6},
{"d":"2023-06-03","o":0.372,"h":0.378,"l":0.366,"c":0.37,"v":5},
{"d":"2023-06-04","o":0.37,"h":0.376,"l":0.365,"c":0.368,"v":4},
{"d":"2023-06-05","o":0.368,"h":0.37,"l":0.325,"c":0.332,"v":16},
{"d":"2023-06-06","o":0.332,"h":0.36,"l":0.32,"c":0.352,"v":14},
{"d":"2023-06-07","o":0.352,"h":0.355,"l":0.328,"c":0.332,"v":12},
{"d":"2023-06-08","o":0.332,"h":0.335,"l":0.31,"c":0.315,"v":12},
{"d":"2023-06-09","o":0.315,"h":0.322,"l":0.28,"c":0.29,"v":18},
{"d":"2023-06-10","o":0.29,"h":0.295,"l":0.22,"c":0.272,"v":38},
{"d":"2023-06-11","o":0.272,"h":0.282,"l":0.26,"c":0.275,"v":14},
{"d":"2023-06-12","o":0.275,"h":0.285,"l":0.262,"c":0.28,"v":10},
{"d":"2023-06-13","o":0.28,"h":0.285,"l":0.268,"c":0.272,"v":9},
{"d":"2023-06-14","o":0.272,"h":0.28,"l":0.258,"c":0.262,"v":9},
{"d":"2023-06-15","o":0.262,"h":0.27,"l":0.25,"c":0.265,"v":10},
{"d":"2023-06-16","o":0.265,"h":0.275,"l":0.26,"c":0.272,"v":8},
{"d":"2023-06-17","o":0.272,"h":0.28,"l":0.268,"c":0.275,"v":6},
{"d":"2023-06-18","o":0.275,"h":0.28,"l":0.268,"c":0.27,"v":5},
{"d":"2023-06-19","o":0.27,"h":0.282,"l":0.268,"c":0.28,"v":6},
{"d":"2023-06-20","o":0.28,"h":0.295,"l":0.275,"c":0.29,"v":9},
{"d":"2023-06-21","o":0.29,"h":0.305,"l":0.285,"c":0.298,"v":11},
{"d":"2023-06-22","o":0.298,"h":0.302,"l":0.28,"c":0.285,"v":9},
{"d":"2023-06-23","o":0.285,"h":0.3,"l":0.282,"c":0.295,"v":8},
{"d":"2023-06-24","o":0.295,"h":0.298,"l":0.28,"c":0.284,"v":7},
{"d":"2023-06-25","o":0.284,"h":0.292,"l":0.28,"c":0.29,"v":5},
{"d":"2023-06-26","o":0.29,"h":0.292,"l":0.278,"c":0.282,"v":6},
{"d":"2023-06-27","o":0.282,"h":0.292,"l":0.28,"c":0.288,"v":6},
{"d":"2023-06-28","o":0.288,"h":0.29,"l":0.272,"c":0.275,"v":7},
{"d":"2023-06-29","o":0.275,"h":0.285,"l":0.272,"c":0.28,"v":6},
{"d":"2023-06-30","o":0.28,"h":0.3,"l":0.278,"c":0.292,"v":10},
{"d":"2023-07-01","o":0.292,"h":0.296,"l":0.285,"c":0.29,"v":6},
{"d":"2023-07-02","o":0.29,"h":0.298,"l":0.286,"c":0.292,"v":5},
{"d":"2023-07-03","o":0.292,"h":0.302,"l":0.288,"c":0.298,"v":7},
{"d":"2023-07-04","o":0.298,"h":0.3,"l":0.288,"c":0.29,"v":6},
{"d":"2023-07-05","o":0.29,"h":0.292,"l":0.278,"c":0.282,"v":7},
{"d":"2023-07-06","o":0.282,"h":0.29,"l":0.27,"c":0.275,"v":9},
{"d":"2023-07-07","o":0.275,"h":0.285,"l":0.272,"c":0.28,"v":6},
{"d":"2023-07-08","o":0.28,"h":0.282,"l":0.274,"c":0.278,"v":4},
{"d":"2023-07-09","o":0.278,"h":0.285,"l":0.275,"c":0.28,"v":4},
{"d":"2023-07-10","o":0.28,"h":0.29,"l":0.276,"c":0.288,"v":6},
{"d":"2023-07-11","o":0.288,"h":0.295,"l":0.282,"c":0.29,"v":6},
{"d":"2023-07-12","o":0.29,"h":0.295,"l":0.278,"c":0.282,"v":6},
{"d":"2023-07-13","o":0.282,"h":0.38,"l":0.28,"c":0.34,"v":30},
{"d":"2023-07-14","o":0.34,"h":0.35,"l":0.31,"c":0.322,"v":20},
{"d":"2023-07-15","o":0.322,"h":0.33,"l":0.315,"c":0.32,"v":9},
{"d":"2023-07-16","o":0.32,"h":0.325,"l":0.31,"c":0.318,"v":6},
{"d":"2023-07-17","o":0.318,"h":0.32,"l":0.302,"c":0.308,"v":8},
{"d":"2023-07-18","o":0.308,"h":0.315,"l":0.3,"c":0.305,"v":8},
{"d":"2023-07-19","o":0.305,"h":0.315,"l":0.302,"c":0.312,"v":7},
{"d":"2023-07-20","o":0.312,"h":0.322,"l":0.302,"c":0.308,"v":8},
{"d":"2023-07-21","o":0.308,"h":0.315,"l":0.305,"c":0.312,"v":6},
{"d":"2023-07-22","o":0.312,"h":0.318,"l":0.302,"c":0.305,"v":6},
{"d":"2023-07-23","o":0.305,"h":0.318,"l":0.302,"c":0.315,"v":5},
{"d":"2023-07-24","o":0.315,"h":0.316,"l":0.298,"c":0.302,"v":7},
{"d":"2023-07-25","o":0.302,"h":0.308,"l":0.298,"c":0.305,"v":5},
{"d":"2023-07-26","o":0.305,"h":0.312,"l":0.3,"c":0.31,"v":5},
{"d":"2023-07-27","o":0.31,"h":0.315,"l":0.3,"c":0.302,"v":5},
{"d":"2023-07-28","o":0.302,"h":0.31,"l":0.298,"c":0.308,"v":5},
{"d":"2023-07-29","o":0.308,"h":0.312,"l":0.304,"c":0.31,"v":4},
{"d":"2023-07-30","o":0.31,"h":0.312,"l":0.298,"c":0.302,"v":4},
{"d":"2023-07-31","o":0.302,"h":0.308,"l":0.292,"c":0.298,"v":6},
{"d":"2023-08-01","o":0.298,"h":0.3,"l":0.285,"c":0.295,"v":7},
{"d":"2023-08-02","o":0.295,"h":0.302,"l":0.29,"c":0.292,"v":6},
{"d":"2023-08-03","o":0.292,"h":0.298,"l":0.288,"c":0.294,"v":5},
{"d":"2023-08-04","o":0.294,"h":0.298,"l":0.288,"c":0.29,"v":5},
{"d":"2023-08-05","o":0.29,"h":0.294,"l":0.286,"c":0.292,"v":3},
{"d":"2023-08-06","o":0.292,"h":0.295,"l":0.288,"c":0.29,"v":3},
{"d":"2023-08-07","o":0.29,"h":0.292,"l":0.282,"c":0.288,"v":5},
{"d":"2023-08-08","o":0.288,"h":0.302,"l":0.286,"c":0.298,"v":7},
{"d":"2023-08-09","o":0.298,"h":0.3,"l":0.29,"c":0.292,"v":6},
{"d":"2023-08-10","o":0.292,"h":0.296,"l":0.288,"c":0.29,"v":4},
{"d":"2023-08-11","o":0.29,"h":0.294,"l":0.286,"c":0.292,"v":4},
{"d":"2023-08-12","o":0.292,"h":0.294,"l":0.288,"c":0.29,"v":3},
{"d":"2023-08-13","o":0.29,"h":0.292,"l":0.282,"c":0.285,"v":4},
{"d":"2023-08-14","o":0.285,"h":0.29,"l":0.28,"c":0.282,"v":5},
{"d":"2023-08-15","o":0.282,"h":0.284,"l":0.27,"c":0.272,"v":7},
{"d":"2023-08-16","o":0.272,"h":0.275,"l":0.265,"c":0.268,"v":7},
{"d":"2023-08-17","o":0.268,"h":0.27,"l":0.24,"c":0.255,"v":16},
{"d":"2023-08-18","o":0.255,"h":0.262,"l":0.248,"c":0.26,"v":10},
{"d":"2023-08-19","o":0.26,"h":0.264,"l":0.255,"c":0.258,"v":5},
{"d":"2023-08-20","o":0.258,"h":0.265,"l":0.256,"c":0.262,"v":4},
{"d":"2023-08-21","o":0.262,"h":0.264,"l":0.25,"c":0.254,"v":6},
{"d":"2023-08-22","o":0.254,"h":0.258,"l":0.245,"c":0.256,"v":7},
{"d":"2023-08-23","o":0.256,"h":0.27,"l":0.254,"c":0.266,"v":7},
{"d":"2023-08-24","o":0.266,"h":0.268,"l":0.256,"c":0.258,"v":5},
{"d":"2023-08-25","o":0.258,"h":0.262,"l":0.254,"c":0.26,"v":4},
{"d":"2023-08-26","o":0.26,"h":0.262,"l":0.256,"c":0.258,"v":3},
{"d":"2023-08-27","o":0.258,"h":0.262,"l":0.255,"c":0.26,"v":3},
{"d":"2023-08-28","o":0.26,"h":0.262,"l":0.252,"c":0.256,"v":4},
{"d":"2023-08-29","o":0.256,"h":0.28,"l":0.255,"c":0.272,"v":10},
{"d":"2023-08-30","o":0.272,"h":0.274,"l":0.262,"c":0.265,"v":6},
{"d":"2023-08-31","o":0.265,"h":0.268,"l":0.25,"c":0.252,"v":7},
{"d":"2023-09-01","o":0.252,"h":0.256,"l":0.245,"c":0.25,"v":6},
{"d":"2023-09-02","o":0.25,"h":0.254,"l":0.248,"c":0.252,"v":3},
{"d":"2023-09-03","o":0.252,"h":0.256,"l":0.25,"c":0.254,"v":3},
{"d":"2023-09-04","o":0.254,"h":0.258,"l":0.248,"c":0.25,"v":4},
{"d":"2023-09-05","o":0.25,"h":0.254,"l":0.246,"c":0.252,"v":4},
{"d":"2023-09-06","o":0.252,"h":0.258,"l":0.248,"c":0.254,"v":4},
{"d":"2023-09-07","o":0.254,"h":0.262,"l":0.25,"c":0.258,"v":5},
{"d":"2023-09-08","o":0.258,"h":0.26,"l":0.248,"c":0.25,"v":5},
{"d":"2023-09-09","o":0.25,"h":0.252,"l":0.248,"c":0.249,"v":2},
{"d":"2023-09-10","o":0.249,"h":0.252,"l":0.242,"c":0.246,"v":4},
{"d":"2023-09-11","o":0.246,"h":0.248,"l":0.236,"c":0.24,"v":7},
{"d":"2023-09-12","o":0.24,"h":0.25,"l":0.238,"c":0.246,"v":6},
{"d":"2023-09-13","o":0.246,"h":0.252,"l":0.244,"c":0.25,"v":5},
{"d":"2023-09-14","o":0.25,"h":0.258,"l":0.248,"c":0.254,"v":5},
{"d":"2023-09-15","o":0.254,"h":0.26,"l":0.25,"c":0.258,"v":4},
{"d":"2023-09-16","o":0.258,"h":0.26,"l":0.254,"c":0.256,"v":3},
{"d":"2023-09-17","o":0.256,"h":0.258,"l":0.25,"c":0.252,"v":3},
{"d":"2023-09-18","o":0.252,"h":0.26,"l":0.248,"c":0.255,"v":5},
{"d":"2023-09-19","o":0.255,"h":0.262,"l":0.252,"c":0.258,"v":5},
{"d":"2023-09-20","o":0.258,"h":0.262,"l":0.252,"c":0.256,"v":4},
{"d":"2023-09-21","o":0.256,"h":0.258,"l":0.246,"c":0.248,"v":5},
{"d":"2023-09-22","o":0.248,"h":0.252,"l":0.246,"c":0.25,"v":3},
{"d":"2023-09-23","o":0.25,"h":0.252,"l":0.248,"c":0.249,"v":2},
{"d":"2023-09-24","o":0.249,"h":0.252,"l":0.244,"c":0.246,"v":3},
{"d":"2023-09-25","o":0.246,"h":0.25,"l":0.242,"c":0.248,"v":4},
{"d":"2023-09-26","o":0.248,"h":0.25,"l":0.244,"c":0.246,"v":3},
{"d":"2023-09-27","o":0.246,"h":0.252,"l":0.244,"c":0.248,"v":4},
{"d":"2023-09-28","o":0.248,"h":0.258,"l":0.246,"c":0.256,"v":5},
{"d":"2023-09-29","o":0.256,"h":0.262,"l":0.254,"c":0.258,"v":4},
{"d":"2023-09-30","o":0.258,"h":0.264,"l":0.256,"c":0.262,"v":3},
{"d":"2023-10-01","o":0.262,"h":0.272,"l":0.26,"c":0.27,"v":6},
{"d":"2023-10-02","o":0.27,"h":0.274,"l":0.26,"c":0.262,"v":6},
{"d":"2023-10-03","o":0.262,"h":0.264,"l":0.256,"c":0.258,"v":4},
{"d":"2023-10-04","o":0.258,"h":0.262,"l":0.254,"c":0.26,"v":4},
{"d":"2023-10-05","o":0.26,"h":0.262,"l":0.252,"c":0.256,"v":4},
{"d":"2023-10-06","o":0.256,"h":0.262,"l":0.254,"c":0.26,"v":4},
{"d":"2023-10-07","o":0.26,"h":0.262,"l":0.256,"c":0.258,"v":2},
{"d":"2023-10-08","o":0.258,"h":0.26,"l":0.254,"c":0.256,"v":2},
{"d":"2023-10-09","o":0.256,"h":0.258,"l":0.248,"c":0.25,"v":4},
{"d":"2023-10-10","o":0.25,"h":0.252,"l":0.246,"c":0.248,"v":4},
{"d":"2023-10-11","o":0.248,"h":0.25,"l":0.24,"c":0.244,"v":5},
{"d":"2023-10-12","o":0.244,"h":0.248,"l":0.24,"c":0.246,"v":4},
{"d":"2023-10-13","o":0.246,"h":0.25,"l":0.244,"c":0.248,"v":4},
{"d":"2023-10-14","o":0.248,"h":0.25,"l":0.246,"c":0.247,"v":2},
{"d":"2023-10-15","o":0.247,"h":0.252,"l":0.246,"c":0.25,"v":2},
{"d":"2023-10-16","o":0.25,"h":0.262,"l":0.248,"c":0.258,"v":6},
{"d":"2023-10-17","o":0.258,"h":0.262,"l":0.252,"c":0.254,"v":4},
{"d":"2023-10-18","o":0.254,"h":0.256,"l":0.25,"c":0.252,"v":3},
{"d":"2023-10-19","o":0.252,"h":0.258,"l":0.25,"c":0.256,"v":4},
{"d":"2023-10-20","o":0.256,"h":0.27,"l":0.255,"c":0.266,"v":7},
{"d":"2023-10-21","o":0.266,"h":0.272,"l":0.262,"c":0.27,"v":5},
{"d":"2023-10-22","o":0.27,"h":0.28,"l":0.266,"c":0.275,"v":5},
{"d":"2023-10-23","o":0.275,"h":0.295,"l":0.272,"c":0.29,"v":12},
{"d":"2023-10-24","o":0.29,"h":0.302,"l":0.28,"c":0.292,"v":14},
{"d":"2023-10-25","o":0.292,"h":0.305,"l":0.288,"c":0.3,"v":10},
{"d":"2023-10-26","o":0.3,"h":0.302,"l":0.288,"c":0.292,"v":8},
{"d":"2023-10-27","o":0.292,"h":0.295,"l":0.282,"c":0.288,"v":7},
{"d":"2023-10-28","o":0.288,"h":0.295,"l":0.286,"c":0.292,"v":4},
{"d":"2023-10-29","o":0.292,"h":0.302,"l":0.29,"c":0.298,"v":5},
{"d":"2023-10-30","o":0.298,"h":0.31,"l":0.295,"c":0.305,"v":7},
{"d":"2023-10-31","o":0.305,"h":0.31,"l":0.295,"c":0.302,"v":7},
{"d":"2023-11-01","o":0.302,"h":0.312,"l":0.298,"c":0.31,"v":8},
{"d":"2023-11-02","o":0.31,"h":0.33,"l":0.305,"c":0.322,"v":11},
{"d":"2023-11-03","o":0.322,"h":0.335,"l":0.315,"c":0.33,"v":11},
{"d":"2023-11-04","o":0.33,"h":0.345,"l":0.326,"c":0.342,"v":10},
{"d":"2023-11-05","o":0.342,"h":0.355,"l":0.335,"c":0.35,"v":12},
{"d":"2023-11-06","o":0.35,"h":0.365,"l":0.345,"c":0.36,"v":14},
{"d":"2023-11-07","o":0.36,"h":0.372,"l":0.35,"c":0.362,"v":14},
{"d":"2023-11-08","o":0.362,"h":0.375,"l":0.355,"c":0.37,"v":13},
{"d":"2023-11-09","o":0.37,"h":0.392,"l":0.36,"c":0.382,"v":22},
{"d":"2023-11-10","o":0.382,"h":0.4,"l":0.372,"c":0.392,"v":20},
{"d":"2023-11-11","o":0.392,"h":0.398,"l":0.372,"c":0.38,"v":14},
{"d":"2023-11-12","o":0.38,"h":0.39,"l":0.372,"c":0.378,"v":9},
{"d":"2023-11-13","o":0.378,"h":0.382,"l":0.362,"c":0.368,"v":11},
{"d":"2023-11-14","o":0.368,"h":0.375,"l":0.355,"c":0.36,"v":12},
{"d":"2023-11-15","o":0.36,"h":0.392,"l":0.358,"c":0.388,"v":16},
{"d":"2023-11-16","o":0.388,"h":0.4,"l":0.368,"c":0.372,"v":15},
{"d":"2023-11-17","o":0.372,"h":0.38,"l":0.36,"c":0.368,"v":11},
{"d":"2023-11-18","o":0.368,"h":0.382,"l":0.364,"c":0.378,"v":8},
{"d":"2023-11-19","o":0.378,"h":0.388,"l":0.372,"c":0.384,"v":8},
{"d":"2023-11-20","o":0.384,"h":0.392,"l":0.372,"c":0.378,"v":10},
{"d":"2023-11-21","o":0.378,"h":0.382,"l":0.35,"c":0.358,"v":16},
{"d":"2023-11-22","o":0.358,"h":0.38,"l":0.356,"c":0.375,"v":13},
{"d":"2023-11-23","o":0.375,"h":0.382,"l":0.37,"c":0.378,"v":8},
{"d":"2023-11-24","o":0.378,"h":0.392,"l":0.375,"c":0.388,"v":10},
{"d":"2023-11-25","o":0.388,"h":0.392,"l":0.38,"c":0.385,"v":7},
{"d":"2023-11-26","o":0.385,"h":0.388,"l":0.375,"c":0.378,"v":7},
{"d":"2023-11-27","o":0.378,"h":0.38,"l":0.365,"c":0.372,"v":9},
{"d":"2023-11-28","o":0.372,"h":0.385,"l":0.368,"c":0.38,"v":9},
{"d":"2023-11-29","o":0.38,"h":0.388,"l":0.372,"c":0.376,"v":8},
{"d":"2023-11-30","o":0.376,"h":0.388,"l":0.374,"c":0.385,"v":9},
{"d":"2023-12-01","o":0.385,"h":0.392,"l":0.378,"c":0.388,"v":9},
{"d":"2023-12-02","o":0.388,"h":0.402,"l":0.385,"c":0.398,"v":10},
{"d":"2023-12-03","o":0.398,"h":0.402,"l":0.386,"c":0.39,"v":9},
{"d":"2023-12-04","o":0.39,"h":0.412,"l":0.388,"c":0.402,"v":14},
{"d":"2023-12-05","o":0.402,"h":0.422,"l":0.395,"c":0.415,"v":16},
{"d":"2023-12-06","o":0.415,"h":0.452,"l":0.41,"c":0.442,"v":22},
{"d":"2023-12-07","o":0.442,"h":0.495,"l":0.435,"c":0.482,"v":30},
{"d":"2023-12-08","o":0.482,"h":0.55,"l":0.475,"c":0.5454,"v":36},
{"d":"2023-12-09","o":0.546211,"h":0.599957,"l":0.544235,"c":0.595264,"v":40}
],
"rsi":[
{"d":"2022-04-09","r":48},{"d":"2022-04-11","r":40},{"d":"2022-04-13","r":46},{"d":"2022-04-15","r":45},{"d":"2022-04-17","r":43},{"d":"2022-04-19","r":47},{"d":"2022-04-21","r":42},{"d":"2022-04-23","r":40},{"d":"2022-04-25","r":41},{"d":"2022-04-27","r":43},{"d":"2022-04-29","r":36},{"d":"2022-05-01","r":38},{"d":"2022-05-03","r":37},{"d":"2022-05-05","r":38},{"d":"2022-05-07","r":34},{"d":"2022-05-09","r":28},{"d":"2022-05-11","r":26},{"d":"2022-05-13","r":32},{"d":"2022-05-15","r":38},{"d":"2022-05-17","r":37},{"d":"2022-05-19","r":35},{"d":"2022-05-21","r":34},{"d":"2022-05-23","r":33},{"d":"2022-05-25","r":32},{"d":"2022-05-27","r":31},{"d":"2022-05-29","r":40},{"d":"2022-05-31","r":46},{"d":"2022-06-02","r":44},{"d":"2022-06-04","r":48},{"d":"2022-06-06","r":53},{"d":"2022-06-08","r":50},{"d":"2022-06-10","r":44},{"d":"2022-06-12","r":37},{"d":"2022-06-14","r":36},{"d":"2022-06-16","r":35},{"d":"2022-06-18","r":34},{"d":"2022-06-20","r":38},{"d":"2022-06-22","r":37},{"d":"2022-06-24","r":42},{"d":"2022-06-26","r":40},{"d":"2022-06-28","r":37},{"d":"2022-06-30","r":36},
{"d":"2022-07-02","r":36},{"d":"2022-07-04","r":39},{"d":"2022-07-06","r":39},{"d":"2022-07-08","r":41},{"d":"2022-07-10","r":38},{"d":"2022-07-12","r":35},{"d":"2022-07-14","r":40},{"d":"2022-07-16","r":43},{"d":"2022-07-18","r":52},{"d":"2022-07-20","r":55},{"d":"2022-07-22","r":53},{"d":"2022-07-24","r":52},{"d":"2022-07-26","r":46},{"d":"2022-07-28","r":54},{"d":"2022-07-30","r":52},{"d":"2022-08-01","r":50},{"d":"2022-08-03","r":50},{"d":"2022-08-05","r":54},{"d":"2022-08-07","r":55},{"d":"2022-08-09","r":54},{"d":"2022-08-11","r":58},{"d":"2022-08-13","r":63},{"d":"2022-08-15","r":56},{"d":"2022-08-17","r":50},{"d":"2022-08-19","r":42},{"d":"2022-08-21","r":43},{"d":"2022-08-23","r":42},{"d":"2022-08-25","r":42},{"d":"2022-08-27","r":38},{"d":"2022-08-29","r":42},{"d":"2022-08-31","r":45},
{"d":"2022-09-02","r":47},{"d":"2022-09-04","r":50},{"d":"2022-09-06","r":45},{"d":"2022-09-08","r":49},{"d":"2022-09-10","r":50},{"d":"2022-09-12","r":47},{"d":"2022-09-14","r":42},{"d":"2022-09-16","r":42},{"d":"2022-09-18","r":39},{"d":"2022-09-20","r":40},{"d":"2022-09-22","r":42},{"d":"2022-09-24","r":41},{"d":"2022-09-26","r":39},{"d":"2022-09-28","r":38},{"d":"2022-09-30","r":37},{"d":"2022-10-02","r":36},{"d":"2022-10-04","r":38},{"d":"2022-10-06","r":36},{"d":"2022-10-08","r":33},{"d":"2022-10-10","r":28},{"d":"2022-10-12","r":25},{"d":"2022-10-14","r":29},{"d":"2022-10-16","r":30},{"d":"2022-10-18","r":31},{"d":"2022-10-20","r":30},{"d":"2022-10-22","r":36},{"d":"2022-10-24","r":38},{"d":"2022-10-26","r":50},{"d":"2022-10-28","r":50},{"d":"2022-10-30","r":57},
{"d":"2022-11-01","r":55},{"d":"2022-11-03","r":52},{"d":"2022-11-05","r":58},{"d":"2022-11-07","r":47},{"d":"2022-11-09","r":30},{"d":"2022-11-11","r":36},{"d":"2022-11-13","r":34},{"d":"2022-11-15","r":36},{"d":"2022-11-17","r":35},{"d":"2022-11-19","r":34},{"d":"2022-11-21","r":31},{"d":"2022-11-23","r":37},{"d":"2022-11-25","r":38},{"d":"2022-11-27","r":38},{"d":"2022-11-29","r":37},{"d":"2022-12-01","r":38},{"d":"2022-12-03","r":38},{"d":"2022-12-05","r":39},{"d":"2022-12-07","r":37},{"d":"2022-12-09","r":38},{"d":"2022-12-11","r":37},{"d":"2022-12-13","r":38},{"d":"2022-12-15","r":32},{"d":"2022-12-17","r":28},{"d":"2022-12-19","r":27},{"d":"2022-12-21","r":29},{"d":"2022-12-23","r":29},{"d":"2022-12-25","r":28},{"d":"2022-12-27","r":27},{"d":"2022-12-29","r":27},{"d":"2022-12-31","r":28},
{"d":"2023-01-02","r":38},{"d":"2023-01-04","r":48},{"d":"2023-01-06","r":50},{"d":"2023-01-08","r":58},{"d":"2023-01-10","r":66},{"d":"2023-01-12","r":72},{"d":"2023-01-14","r":77},{"d":"2023-01-16","r":72},{"d":"2023-01-18","r":65},{"d":"2023-01-20","r":70},{"d":"2023-01-22","r":72},{"d":"2023-01-24","r":66},{"d":"2023-01-26","r":72},{"d":"2023-01-28","r":68},{"d":"2023-01-30","r":62},{"d":"2023-02-01","r":66},{"d":"2023-02-03","r":65},{"d":"2023-02-05","r":60},{"d":"2023-02-07","r":60},{"d":"2023-02-09","r":48},{"d":"2023-02-11","r":52},{"d":"2023-02-13","r":48},{"d":"2023-02-15","r":58},{"d":"2023-02-17","r":58},{"d":"2023-02-19","r":59},{"d":"2023-02-21","r":54},{"d":"2023-02-23","r":46},{"d":"2023-02-25","r":40},{"d":"2023-02-27","r":41},
{"d":"2023-03-01","r":41},{"d":"2023-03-03","r":36},{"d":"2023-03-05","r":36},{"d":"2023-03-07","r":34},{"d":"2023-03-09","r":31},{"d":"2023-03-11","r":33},{"d":"2023-03-13","r":46},{"d":"2023-03-15","r":43},{"d":"2023-03-17","r":50},{"d":"2023-03-19","r":48},{"d":"2023-03-21","r":52},{"d":"2023-03-23","r":52},{"d":"2023-03-25","r":50},{"d":"2023-03-27","r":48},{"d":"2023-03-29","r":58},{"d":"2023-03-31","r":60},{"d":"2023-04-02","r":56},{"d":"2023-04-04","r":60},{"d":"2023-04-06","r":58},{"d":"2023-04-08","r":62},{"d":"2023-04-10","r":67},{"d":"2023-04-12","r":66},{"d":"2023-04-14","r":74},{"d":"2023-04-16","r":72},{"d":"2023-04-18","r":64},{"d":"2023-04-20","r":52},{"d":"2023-04-22","r":49},{"d":"2023-04-24","r":47},{"d":"2023-04-26","r":49},{"d":"2023-04-28","r":51},{"d":"2023-04-30","r":49},
{"d":"2023-05-02","r":45},{"d":"2023-05-04","r":44},{"d":"2023-05-06","r":40},{"d":"2023-05-08","r":37},{"d":"2023-05-10","r":39},{"d":"2023-05-12","r":39},{"d":"2023-05-14","r":40},{"d":"2023-05-16","r":44},{"d":"2023-05-18","r":43},{"d":"2023-05-20","r":46},{"d":"2023-05-22","r":45},{"d":"2023-05-24","r":41},{"d":"2023-05-26","r":44},{"d":"2023-05-28","r":50},{"d":"2023-05-30","r":47},{"d":"2023-06-01","r":44},{"d":"2023-06-03","r":47},{"d":"2023-06-05","r":33},{"d":"2023-06-07","r":33},{"d":"2023-06-09","r":27},{"d":"2023-06-11","r":25},{"d":"2023-06-13","r":27},{"d":"2023-06-15","r":26},{"d":"2023-06-17","r":32},{"d":"2023-06-19","r":35},{"d":"2023-06-21","r":44},{"d":"2023-06-23","r":43},{"d":"2023-06-25","r":42},{"d":"2023-06-27","r":42},{"d":"2023-06-29","r":40},
{"d":"2023-07-01","r":45},{"d":"2023-07-03","r":47},{"d":"2023-07-05","r":43},{"d":"2023-07-07","r":42},{"d":"2023-07-09","r":43},{"d":"2023-07-11","r":45},{"d":"2023-07-13","r":70},{"d":"2023-07-15","r":58},{"d":"2023-07-17","r":53},{"d":"2023-07-19","r":52},{"d":"2023-07-21","r":52},{"d":"2023-07-23","r":53},{"d":"2023-07-25","r":49},{"d":"2023-07-27","r":48},{"d":"2023-07-29","r":49},{"d":"2023-07-31","r":46},{"d":"2023-08-02","r":45},{"d":"2023-08-04","r":44},{"d":"2023-08-06","r":44},{"d":"2023-08-08","r":47},{"d":"2023-08-10","r":44},{"d":"2023-08-12","r":44},{"d":"2023-08-14","r":40},{"d":"2023-08-16","r":34},{"d":"2023-08-18","r":30},{"d":"2023-08-20","r":33},{"d":"2023-08-22","r":33},{"d":"2023-08-24","r":37},{"d":"2023-08-26","r":37},{"d":"2023-08-28","r":37},{"d":"2023-08-30","r":45},
{"d":"2023-09-01","r":38},{"d":"2023-09-03","r":40},{"d":"2023-09-05","r":39},{"d":"2023-09-07","r":42},{"d":"2023-09-09","r":40},{"d":"2023-09-11","r":35},{"d":"2023-09-13","r":42},{"d":"2023-09-15","r":46},{"d":"2023-09-17","r":44},{"d":"2023-09-19","r":47},{"d":"2023-09-21","r":43},{"d":"2023-09-23","r":44},{"d":"2023-09-25","r":42},{"d":"2023-09-27","r":43},{"d":"2023-09-29","r":50},{"d":"2023-10-01","r":58},{"d":"2023-10-03","r":50},{"d":"2023-10-05","r":49},{"d":"2023-10-07","r":50},{"d":"2023-10-09","r":45},{"d":"2023-10-11","r":41},{"d":"2023-10-13","r":43},{"d":"2023-10-15","r":45},{"d":"2023-10-17","r":52},{"d":"2023-10-19","r":53},{"d":"2023-10-21","r":63},{"d":"2023-10-23","r":75},{"d":"2023-10-25","r":78},{"d":"2023-10-27","r":70},{"d":"2023-10-29","r":73},{"d":"2023-10-31","r":72},
{"d":"2023-11-02","r":78},{"d":"2023-11-04","r":81},{"d":"2023-11-06","r":84},{"d":"2023-11-08","r":83},{"d":"2023-11-10","r":84},{"d":"2023-11-12","r":74},{"d":"2023-11-14","r":64},{"d":"2023-11-16","r":67},{"d":"2023-11-18","r":68},{"d":"2023-11-20","r":67},{"d":"2023-11-22","r":62},{"d":"2023-11-24","r":67},{"d":"2023-11-26","r":64},{"d":"2023-11-28","r":64},{"d":"2023-11-30","r":66},{"d":"2023-12-02","r":69},{"d":"2023-12-04","r":71},{"d":"2023-12-06","r":79},{"d":"2023-12-08","r":86},{"d":"2023-12-09","r":88}
],
"ma":[
{"d":"2022-07-08","m":0.95},{"d":"2022-07-17","m":0.87},{"d":"2022-07-28","m":0.81},{"d":"2022-08-08","m":0.756},{"d":"2022-08-23","m":0.714},{"d":"2022-08-30","m":0.69},{"d":"2022-09-13","m":0.66},{"d":"2022-10-02","m":0.621},{"d":"2022-10-19","m":0.571},{"d":"2022-11-01","m":0.53},{"d":"2022-11-21","m":0.475},{"d":"2022-12-09","m":0.446},{"d":"2022-12-29","m":0.421},{"d":"2023-01-22","m":0.4},{"d":"2023-02-05","m":0.395},{"d":"2023-02-21","m":0.385},{"d":"2023-03-11","m":0.37},{"d":"2023-04-05","m":0.356},{"d":"2023-04-30","m":0.353},{"d":"2023-06-02","m":0.352},{"d":"2023-07-01","m":0.351},{"d":"2023-07-11","m":0.353},{"d":"2023-08-04","m":0.352},{"d":"2023-08-29","m":0.341},{"d":"2023-09-22","m":0.332},{"d":"2023-10-16","m":0.317},{"d":"2023-10-30","m":0.308},{"d":"2023-11-24","m":0.302},{"d":"2023-12-06","m":0.305},{"d":"2023-12-09","m":0.306}
],
"lvl":[
{"a":"2022-04-12","b":"2024-05-23","p":0.743,"k":"major"},
{"a":"2022-05-09","b":"2024-05-23","p":0.667,"k":"key"},
{"a":"2022-05-12","b":"2024-05-23","p":0.598,"k":"key"},
{"a":"2022-05-08","b":"2024-05-23","p":0.523,"k":"level"},
{"a":"2022-05-16","b":"2024-05-23","p":0.421,"k":"level"},
{"a":"2022-05-12","b":"2024-02-14","p":0.383,"k":"level"},
{"a":"2022-10-01","b":"2024-01-27","p":0.3,"k":"level"},
{"a":"2022-05-09","b":"2024-05-23","p":0.237,"k":"level"}
],
"tri":[
{"a":"2023-10-23","p":0.31,"b":"2023-12-04","q":0.378},
{"a":"2023-11-09","p":0.419,"b":"2023-12-04","q":0.378}
],
"plab":[
{"d":"2024-05-27","p":0.15},{"d":"2024-05-27","p":0.2},{"d":"2024-05-27","p":0.25},{"d":"2024-05-27","p":0.3},{"d":"2024-05-27","p":0.35},{"d":"2024-05-27","p":0.4},{"d":"2024-05-27","p":0.45},{"d":"2024-05-27","p":0.5},{"d":"2024-05-27","p":0.55},{"d":"2024-05-27","p":0.65},{"d":"2024-05-27","p":0.7},{"d":"2024-05-27","p":0.75},{"d":"2024-05-27","p":0.8}
],
"rlab":[
{"d":"2024-05-27","r":25},{"d":"2024-05-27","r":50},{"d":"2024-05-27","r":75}
]
},
"vconcat":[
{"width":534,"height":244,
 "resolve":{"scale":{"y":"independent"}},
 "layer":[
  {"data":{"name":"ohlc"},
   "mark":{"type":"rule","strokeWidth":0.8,"opacity":0.4,"clip":true},
   "encoding":{
    "x":{"field":"d","type":"temporal","scale":{"type":"utc","domain":[{"year":2022,"month":4,"date":7,"utc":true},{"year":2024,"month":5,"date":23,"utc":true}]},
      "axis":{"labels":false,"grid":true,"values":[{"year":2022,"month":5,"date":1,"utc":true},{"year":2022,"month":7,"date":1,"utc":true},{"year":2022,"month":9,"date":1,"utc":true},{"year":2022,"month":11,"date":1,"utc":true},{"year":2023,"month":1,"date":1,"utc":true},{"year":2023,"month":3,"date":1,"utc":true},{"year":2023,"month":5,"date":1,"utc":true},{"year":2023,"month":7,"date":1,"utc":true},{"year":2023,"month":9,"date":1,"utc":true},{"year":2023,"month":11,"date":1,"utc":true},{"year":2024,"month":1,"date":1,"utc":true},{"year":2024,"month":3,"date":1,"utc":true},{"year":2024,"month":5,"date":1,"utc":true}]}},
    "y":{"field":"v","type":"quantitative","scale":{"domain":[0,225]},"axis":null},
    "y2":{"datum":0},
    "color":{"condition":{"test":"datum.c < datum.o","value":"#ef5350"},"value":"#26a69a"}}},
  {"layer":[
    {"data":{"name":"lvl"},
     "mark":{"type":"rule","clip":true},
     "encoding":{
      "x":{"field":"a","type":"temporal"},
      "x2":{"field":"b"},
      "y":{"field":"p","type":"quantitative","scale":{"domain":[0.1402,0.8697],"nice":false,"zero":false},
        "axis":{"orient":"right","grid":true,"labels":false,"values":[0.15,0.2,0.25,0.3,0.35,0.4,0.45,0.5,0.55,0.6,0.65,0.7,0.75,0.8]}},
      "color":{"field":"k","type":"nominal","scale":{"domain":["major","key","level"],"range":["#f23645","#ff9800","#4caf50"]},"legend":null},
      "strokeWidth":{"field":"k","type":"nominal","scale":{"domain":["major","key","level"],"range":[1.5,2,1.5]},"legend":null}}},
    {"data":{"name":"ma"},
     "mark":{"type":"line","color":"#4caf50","strokeWidth":1.3,"interpolate":"monotone","clip":true},
     "encoding":{"x":{"field":"d","type":"temporal"},"y":{"field":"m","type":"quantitative"}}},
    {"data":{"name":"ohlc"},
     "mark":{"type":"rule","strokeWidth":0.6,"opacity":0.8,"clip":true},
     "encoding":{"x":{"field":"d","type":"temporal"},"y":{"field":"l","type":"quantitative"},"y2":{"field":"h"},
      "color":{"condition":{"test":"datum.c < datum.o","value":"#ef5350"},"value":"#26a69a"}}},
    {"data":{"name":"ohlc"},
     "mark":{"type":"rule","strokeWidth":1,"opacity":0.8,"clip":true},
     "encoding":{"x":{"field":"d","type":"temporal"},"y":{"field":"o","type":"quantitative"},"y2":{"field":"c"},
      "color":{"condition":{"test":"datum.c < datum.o","value":"#ef5350"},"value":"#26a69a"}}},
    {"data":{"name":"tri"},
     "mark":{"type":"rule","color":"#2962ff","strokeWidth":1.5,"clip":true},
     "encoding":{"x":{"field":"a","type":"temporal"},"x2":{"field":"b"},"y":{"field":"p","type":"quantitative"},"y2":{"field":"q"}}},
    {"data":{"name":"plab"},
     "mark":{"type":"text","fontSize":5,"align":"left","baseline":"middle","color":"#b2b5be"},
     "encoding":{"x":{"field":"d","type":"temporal"},"y":{"field":"p","type":"quantitative"},"text":{"field":"p","type":"quantitative","format":".6f"}}},
    {"data":{"values":[
      {"a":"2022-04-12","b":"2022-05-28","p":0.8317,"q":0.8078,"k":"sell"},
      {"a":"2022-07-03","b":"2022-08-14","p":0.8317,"q":0.8078,"k":"buy"},
      {"a":"2022-04-19","b":"2022-05-04","p":0.7979,"q":0.774,"k":"qty"},
      {"a":"2024-05-25","b":"2024-07-02","p":0.868,"q":0.8398,"k":"qty"},
      {"a":"2024-04-22","b":"2024-05-22","p":0.6057,"q":0.5856,"k":"tag"},
      {"a":"2024-05-24","b":"2024-07-02","p":0.6075,"q":0.5707,"k":"tag"}]},
     "mark":{"type":"rect","strokeWidth":0.8,"cornerRadius":1},
     "encoding":{"x":{"field":"a","type":"temporal"},"x2":{"field":"b"},"y":{"field":"p","type":"quantitative"},"y2":{"field":"q"},
      "fill":{"field":"k","type":"nominal","scale":{"domain":["sell","buy","qty","tag"],"range":["#151924","#151924","#151924","#22ab94"]},"legend":null},
      "stroke":{"field":"k","type":"nominal","scale":{"domain":["sell","buy","qty","tag"],"range":["#f23645","#2962ff","#434651","#22ab94"]},"legend":null}}},
    {"data":{"values":[
      {"d":"2022-05-04","p":0.8197,"t":"0.595000","k":"sell"},
      {"d":"2022-06-15","p":0.8197,"t":"0.000001","k":"qty"},
      {"d":"2022-07-24","p":0.8197,"t":"0.595001","k":"buy"},
      {"d":"2022-04-27","p":0.786,"t":"∨ 3","k":"qty"},
      {"d":"2024-06-12","p":0.855,"t":"USD   ▾","k":"qty"},
      {"d":"2024-05-07","p":0.5957,"t":"ADAUSD","k":"tag"},
      {"d":"2024-06-12","p":0.5967,"t":"0.595264","k":"tag"},
      {"d":"2024-06-12","p":0.5797,"t":"10:18:41","k":"tag"}]},
     "mark":{"type":"text","fontSize":4.8,"align":"center","baseline":"middle"},
     "encoding":{"x":{"field":"d","type":"temporal"},"y":{"field":"p","type":"quantitative"},"text":{"field":"t"},
      "color":{"field":"k","type":"nominal","scale":{"domain":["sell","buy","qty","tag"],"range":["#f23645","#5b8cff","#b2b5be","#ffffff"]},"legend":null}}},
    {"data":{"values":[{"d":"2022-04-16","p":0.855,"t":"Cardano / U. S. Dollar · 1D · KRAKEN"}]},
     "mark":{"type":"text","fontSize":6.8,"align":"left","baseline":"middle","color":"#d1d4dc"},
     "encoding":{"x":{"field":"d","type":"temporal"},"y":{"field":"p","type":"quantitative"},"text":{"field":"t"}}},
    {"data":{"values":[{"d":"2022-11-01","p":0.855,"t":"O0.546211  H0.599957  L0.544235  C0.595264  +0.049862 (+9.14%)"}]},
     "mark":{"type":"text","fontSize":5.8,"align":"left","baseline":"middle","color":"#26a69a"},
     "encoding":{"x":{"field":"d","type":"temporal"},"y":{"field":"p","type":"quantitative"},"text":{"field":"t"}}},
    {"data":{"values":[{"d":"2022-04-11","p":0.855,"k":"logo"},{"d":"2022-10-18","p":0.855,"k":"open"},{"d":"2023-12-12","p":0.162,"k":"event"}]},
     "mark":{"type":"point","filled":true,"opacity":1,"strokeWidth":1},
     "encoding":{"x":{"field":"d","type":"temporal"},"y":{"field":"p","type":"quantitative"},
      "size":{"field":"k","type":"nominal","scale":{"domain":["logo","open","event"],"range":[28,12,55]},"legend":null},
      "color":{"field":"k","type":"nominal","scale":{"domain":["logo","open","event"],"range":["#3a78f2","#22ab94","#f23645"]},"legend":null},
      "stroke":{"field":"k","type":"nominal","scale":{"domain":["logo","open","event"],"range":["#3a78f2","#22ab94","#ffffff"]},"legend":null}}}
  ]}
 ]},
{"width":534,"height":45,
 "layer":[
  {"data":{"values":[{"a":"2022-04-07","b":"2024-05-23","lo":30,"hi":70}]},
   "mark":{"type":"rect","color":"#7e57c2","opacity":0.15},
   "encoding":{
    "x":{"field":"a","type":"temporal","scale":{"type":"utc","domain":[{"year":2022,"month":4,"date":7,"utc":true},{"year":2024,"month":5,"date":23,"utc":true}]},
      "axis":{"grid":true,"labelPadding":4,"labelFontSize":5,
       "values":[{"year":2022,"month":5,"date":1,"utc":true},{"year":2022,"month":7,"date":1,"utc":true},{"year":2022,"month":9,"date":1,"utc":true},{"year":2022,"month":11,"date":1,"utc":true},{"year":2023,"month":1,"date":1,"utc":true},{"year":2023,"month":3,"date":1,"utc":true},{"year":2023,"month":5,"date":1,"utc":true},{"year":2023,"month":7,"date":1,"utc":true},{"year":2023,"month":9,"date":1,"utc":true},{"year":2023,"month":11,"date":1,"utc":true},{"year":2024,"month":1,"date":1,"utc":true},{"year":2024,"month":3,"date":1,"utc":true},{"year":2024,"month":5,"date":1,"utc":true}],
       "labelExpr":"(utcyear(datum.value) == 2022 && utcmonth(datum.value) < 10) ? '' : (utcmonth(datum.value) == 0 ? utcFormat(datum.value, '%Y') : utcFormat(datum.value, '%b'))"}},
    "x2":{"field":"b"},
    "y":{"field":"lo","type":"quantitative","scale":{"domain":[16.7,91.7],"nice":false,"zero":false},"axis":null},
    "y2":{"field":"hi"}}},
  {"data":{"values":[{"g":70},{"g":30}]},
   "mark":{"type":"rule","color":"#8a8d96","strokeDash":[2,2],"strokeWidth":0.7},
   "encoding":{"y":{"field":"g","type":"quantitative"}}},
  {"data":{"name":"rsi"},
   "mark":{"type":"line","color":"#7e57c2","strokeWidth":1,"clip":true},
   "encoding":{"x":{"field":"d","type":"temporal"},"y":{"field":"r","type":"quantitative"}}},
  {"data":{"name":"rlab"},
   "mark":{"type":"text","fontSize":5,"align":"left","baseline":"middle","color":"#b2b5be"},
   "encoding":{"x":{"field":"d","type":"temporal"},"y":{"field":"r","type":"quantitative"},"text":{"field":"r","type":"quantitative","format":".2f"}}},
  {"data":{"values":[{"d":"2022-04-26","r":26.7,"t":"17"}]},
   "mark":{"type":"text","fontSize":9,"fontWeight":900,"align":"center","baseline":"middle","color":"#e0e3eb"},
   "encoding":{"x":{"field":"d","type":"temporal"},"y":{"field":"r","type":"quantitative"},"text":{"field":"t"}}},
  {"data":{"values":[{"d":"2022-05-09","r":26.7,"t":"TradingView"}]},
   "mark":{"type":"text","fontSize":9,"fontWeight":600,"align":"left","baseline":"middle","color":"#e0e3eb"},
   "encoding":{"x":{"field":"d","type":"temporal"},"y":{"field":"r","type":"quantitative"},"text":{"field":"t"}}},
  {"data":{"values":[{"d":"2024-06-12","r":5,"t":"⚙"}]},
   "mark":{"type":"text","fontSize":8,"align":"center","baseline":"middle","color":"#b2b5be"},
   "encoding":{"x":{"field":"d","type":"temporal"},"y":{"field":"r","type":"quantitative"},"text":{"field":"t"}}}
 ]}
]
}
